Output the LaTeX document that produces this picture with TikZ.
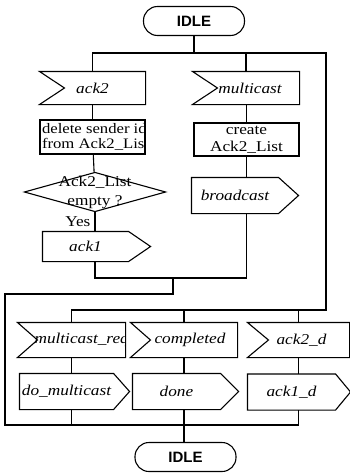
\documentclass[tikz,border=0pt]{standalone}
\usepackage{fontspec}
\setmainfont{Liberation Serif}[FakeStretch=1.15]
\newfontfamily\headfont{Liberation Sans}
\begin{document}
\begin{tikzpicture}[x=1pt,y=-1pt, line width=1.1pt, line join=miter,
  txt/.style={font=\fontsize{15}{19}\selectfont, inner sep=0pt, align=center},
  sig/.style={txt, font=\fontsize{15}{19}\selectfont\itshape},
  state/.style={draw, rounded corners=14pt, minimum width=101pt, minimum height=29pt,
                inner sep=0pt, font=\headfont\bfseries\fontsize{15}{16}\selectfont},
  taskbox/.style={draw, txt},
  inner/.style={draw=none, fill=none, minimum width=0pt, minimum height=0pt, inner sep=0pt},
]
\useasboundingbox (0,0) rectangle (350,474);

% states
\node[state] (idle1) at (194,21) {IDLE};
\node[state] (idle2) at (185.5,457) {IDLE};

% left branch: ack2 received
\node[sig, minimum width=105pt, minimum height=32pt] (ack2) at (92.5,88) {ack2};
\node[taskbox, minimum width=105pt, minimum height=34pt,
      path picture={\node[inner, txt, align=left, anchor=west,
        font=\fontsize{14.5}{14.5}\selectfont]
        at ([xshift=1.5pt]path picture bounding box.west)
        {delete sender id\\from Ack2\_List};}] (del) at (92.5,137) {};
\node[txt, minimum width=140pt, minimum height=38pt] (dec) at (95,192) {Ack2\_List\\empty ?};
\node[sig, minimum width=85pt, minimum height=29pt] (ack1) at (85.5,246.5) {ack1};
\node[txt, anchor=east] (yes) at (91,222) {Yes};

% middle branch: multicast received
\node[sig, minimum width=106pt, minimum height=32pt] (mcast) at (246,88) {\hspace{8pt}multicast};
\node[taskbox, minimum width=105pt, minimum height=33pt,
      font=\fontsize{15}{17}\selectfont] (create) at (246.5,139.5) {create\\Ack2\_List};
\node[sig, minimum width=86pt, minimum height=35pt] (bcast) at (235,195.5) {broadcast};

% lower row of inputs
\node[sig, minimum width=107pt, minimum height=34pt,
      path picture={\node[inner, sig, anchor=west]
        at ([xshift=16pt]path picture bounding box.west) {multicast\_req};}] (mreq) at (71.5,340) {};
\node[sig, minimum width=106pt, minimum height=34pt] (compl) at (184,340) {\hspace{12pt}completed};
\node[sig, minimum width=101pt, minimum height=34pt] (ack2d) at (298.5,340) {\hspace{6pt}ack2\_d};

% lower row of outputs
\node[sig, minimum width=93pt, minimum height=35pt] (domc) at (66.5,391.5) {do\_multicast};
\node[sig, minimum width=87pt, minimum height=35pt] (done) at (176.5,391.5) {done};
\node[sig, minimum width=87pt, minimum height=35pt] (ack1d) at (291.5,392) {ack1\_d};

% input symbols (notched on the left)
\foreach \n/\d in {ack2/25, mcast/25, mreq/20, compl/20, ack2d/21}
  \draw (\n.north west) -- (\n.north east) -- (\n.south east) -- (\n.south west)
        -- ([xshift=\d pt]\n.west) -- cycle;
% output symbols (pointed on the right)
\foreach \n/\d in {ack1/22, bcast/20, domc/16, done/18, ack1d/15}
  \draw (\n.north west) -- (\n.north east) -- ([xshift=\d pt]\n.east)
        -- (\n.south east) -- (\n.south west) -- cycle;
% decision
\draw (dec.north) -- (dec.east) -- (dec.south) -- (dec.west) -- cycle;

% junction points of the flow lines
\coordinate (busR) at (326,53);
\coordinate (bus2) at (326,310);
\coordinate (jA) at (173,278);
\coordinate (jB) at (173,294);
\coordinate (loopL) at (5,294);
\coordinate (botL) at (5,425);

% upper fan-out
\draw (idle1.south) -- (idle1.south |- busR);
\draw (ack2.north) |- (busR) -- (bus2) -| (mreq.north);
\draw (mcast.north) -- (mcast.north |- busR);
\draw (compl.north) -- (compl.north |- bus2);
\draw (ack2d.north) -- (ack2d.north |- bus2);

% left branch flow
\draw (ack2) -- (del);
\draw (del) -- (dec);
\draw (dec.south) -- (dec.south |- ack1.north);

% middle branch flow
\draw (mcast.south -| create) -- (create);
\draw (create.south) -- (create.south |- bcast.north);

% merge and loop back down
\draw (dec.south |- ack1.south) |- (jA) -| (create.south |- bcast.south);
\draw (jA) -- (jB) -- (loopL) -- (botL) -| (ack2d.south |- ack1d.south);

% lower row flow
\draw (mreq.south) -- (mreq.south |- domc.north);
\draw (mreq.south |- domc.south) -- (mreq.south |- botL);
\draw (compl.south) -- (compl.south |- done.north);
\draw (compl.south |- done.south) -- (idle2.north -| compl.south);
\draw (ack2d.south) -- (ack2d.south |- ack1d.north);
\end{tikzpicture}
\end{document}
